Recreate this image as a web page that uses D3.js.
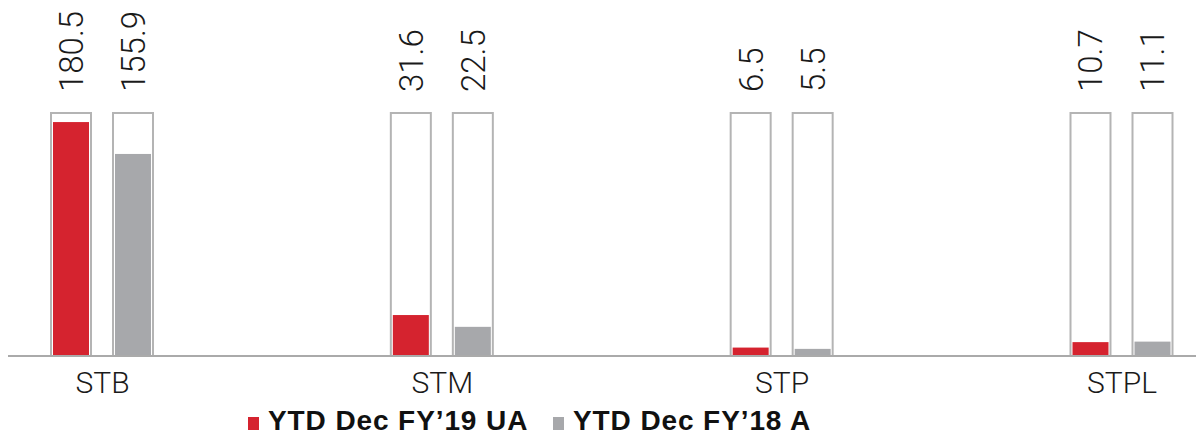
<!DOCTYPE html>
<html>
<head>
<meta charset="utf-8">
<script src="https://cdn.jsdelivr.net/npm/d3@7"></script>
<style>
  html, body { margin: 0; padding: 0; background: #fff; }
  svg { display: block; }
</style>
</head>
<body>
<svg id="chart" width="1196" height="437"></svg>
<script>
// Segment revenue, YTD December
const categories = ["STB", "STM", "STP", "STPL"];
const seriesNames = ["YTD Dec FY\u201919 UA", "YTD Dec FY\u201918 A"];
const fy19 = [180.5, 31.6, 6.5, 10.7];
const fy18 = [155.9, 22.5, 5.5, 11.1];
const valueLabels19 = ["180.5", "31.6", "6.5", "10.7"];
const valueLabels18 = ["155.9", "22.5", "5.5", "11.1"];

const colors = ["#d5232f", "#a7a8ab"];
const W = 1196, H = 437;
const baseY = 356, topY = 113;
const frameMax = 187.5;   // height of the outline frames, in data units

const svg = d3.select("#chart");

const x = d3.scalePoint().domain(categories).range([102, 1121.5]);
const inner = d3.scaleBand().domain([0, 1]).range([-52, 52]).paddingInner(0.3226);
const y = d3.scaleLinear().domain([0, frameMax]).range([baseY, topY]);

const series = [fy19, fy18];
const labels = [valueLabels19, valueLabels18];

const groups = svg.append("g").selectAll("g")
  .data(categories)
  .join("g")
  .attr("transform", d => `translate(${x(d)},0)`);

[0, 1].forEach(s => {
  const bw = inner.bandwidth();
  // outline frame
  groups.append("rect")
    .attr("x", inner(s) + 1)
    .attr("y", y(frameMax))
    .attr("width", bw - 2)
    .attr("height", y(0) - y(frameMax))
    .attr("fill", "#fff")
    .attr("stroke", "#b4b4b4")
    .attr("stroke-width", 2);
  // filled bar
  groups.append("rect")
    .attr("x", inner(s) + 3)
    .attr("y", (d, i) => y(series[s][i]))
    .attr("width", bw - 6)
    .attr("height", (d, i) => y(0) - y(series[s][i]))
    .attr("fill", colors[s]);
  // rotated value label
  groups.append("text")
    .attr("transform", `translate(${inner(s) + bw / 2},92) rotate(-90)`)
    .attr("dy", "0.36em")
    .attr("text-anchor", "start")
    .attr("font-family", "Roboto, sans-serif")
    .attr("font-weight", 300)
    .attr("font-size", 33)
    .attr("fill", "#1a1a1a")
    .text((d, i) => labels[s][i]);
});

// baseline axis
const axis = d3.axisBottom(x).tickSize(0).tickPadding(16);
const axisG = svg.append("g").attr("transform", `translate(0,${baseY})`).call(axis);
axisG.select(".domain").remove();
axisG.append("line")
  .attr("x1", 8).attr("x2", W)
  .attr("y1", 0).attr("y2", 0)
  .attr("stroke", "#aaaaaa")
  .attr("stroke-width", 2);
axisG.selectAll(".tick text")
  .attr("font-family", "Roboto, sans-serif")
  .attr("font-weight", 300)
  .attr("font-size", 30)
  .attr("fill", "#1a1a1a");

// legend
const legendX = [248, 553];
const legend = svg.append("g").selectAll("g")
  .data(seriesNames)
  .join("g")
  .attr("transform", (d, i) => `translate(${legendX[i]},0)`);
legend.append("rect")
  .attr("x", 0).attr("y", 417)
  .attr("width", 11).attr("height", 13)
  .attr("fill", (d, i) => colors[i]);
legend.append("text")
  .attr("x", 20).attr("y", 430)
  .attr("font-family", "'Liberation Sans', Arial, sans-serif")
  .attr("font-weight", 700)
  .attr("font-size", 28)
  .attr("letter-spacing", 0.9)
  .attr("fill", "#111")
  .text(d => d);
</script>
</body>
</html>
